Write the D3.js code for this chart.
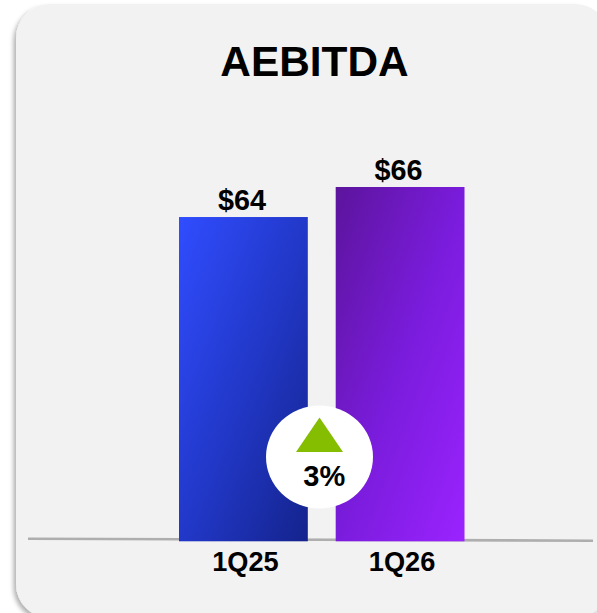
<!DOCTYPE html>
<html><head><meta charset="utf-8">
<script src="https://cdn.jsdelivr.net/npm/d3@7"></script>
<style>html,body{margin:0;padding:0;background:#fff;overflow:hidden}svg{display:block}text{font-family:"Liberation Sans",Arial,sans-serif;font-weight:700;fill:#000}</style>
</head><body><div id="c"></div>
<script>
const title = "AEBITDA";
const categories = ["1Q25", "1Q26"];
const values = [64, 66];
const valueLabels = ["$64", "$66"];
const changeLabel = "3%";
const gradients = [["#304dff", "#2238c9", "#14238c"], ["#5c149c", "#7a1cdc", "#9b23ff"]];

const W = 597, H = 613;
const svg = d3.select("#c").append("svg").attr("width", W).attr("height", H);
const defs = svg.append("defs");
const f = defs.append("filter").attr("id", "sh").attr("x", "-5%").attr("y", "-5%").attr("width", "110%").attr("height", "110%");
f.append("feDropShadow").attr("dx", -2.5).attr("dy", 3).attr("stdDeviation", 2).attr("flood-color", "#000").attr("flood-opacity", 0.3);
gradients.forEach((g, i) => {
  const lg = defs.append("linearGradient").attr("id", "g" + i).attr("x1", "0").attr("y1", "0").attr("x2", "1").attr("y2", "1");
  g.forEach((c, k) => lg.append("stop").attr("offset", (k * 50) + "%").attr("stop-color", c));
});

svg.append("rect").attr("x", 16).attr("y", 4).attr("width", 593).attr("height", 614)
  .attr("rx", 34).attr("ry", 34).attr("fill", "#f2f2f2").attr("filter", "url(#sh)");

const x = d3.scaleBand().domain(categories).range([179, 464.5]).paddingInner(0.178);
const y = d3.scaleLinear().domain([42.4, 66]).range([541.3, 187]);

svg.append("line").attr("x1", 28).attr("y1", 538.7).attr("x2", 593).attr("y2", 540.7)
  .attr("stroke", "#aeaeae").attr("stroke-width", 2.6);

svg.selectAll("rect.bar").data(categories).join("rect").attr("class", "bar")
  .attr("x", d => x(d)).attr("width", x.bandwidth())
  .attr("y", (d, i) => y(values[i])).attr("height", (d, i) => y.range()[0] - y(values[i]))
  .attr("fill", (d, i) => `url(#g${i})`);

svg.selectAll("text.val").data(valueLabels).join("text").attr("class", "val")
  .attr("x", (d, i) => x(categories[i]) + x.bandwidth() / 2 - 1.5).attr("y", (d, i) => y(values[i]) - 7)
  .attr("text-anchor", "middle").attr("font-size", 28.8).text(d => d);

svg.selectAll("text.cat").data(categories).join("text").attr("class", "cat")
  .attr("x", (d, i) => x(d) + x.bandwidth() / 2 + 2).attr("y", 571)
  .attr("text-anchor", "middle").attr("font-size", 27.2).text(d => d);

svg.append("text").attr("x", 314.5).attr("y", 76).attr("text-anchor", "middle").attr("font-size", 42.4).text(title);

svg.append("ellipse").attr("cx", 319.5).attr("cy", 457).attr("rx", 53.5).attr("ry", 51.5).attr("fill", "#fff");
svg.append("path").attr("d", d3.line()([[319.5, 417.5], [343, 452], [296, 452]]) + "Z").attr("fill", "#85bd00");
svg.append("text").attr("x", 324.3).attr("y", 486).attr("text-anchor", "middle").attr("font-size", 29).text(changeLabel);
</script></body></html>
